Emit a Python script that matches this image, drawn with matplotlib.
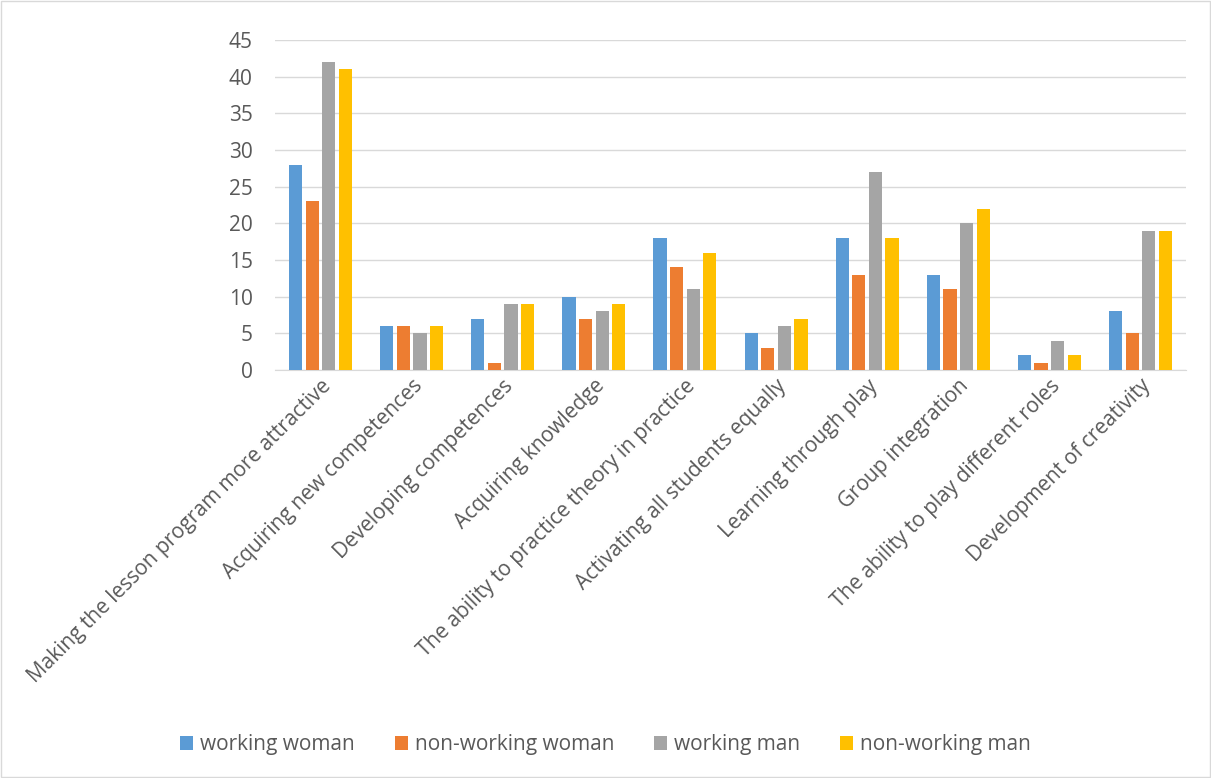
import matplotlib
matplotlib.use("Agg")
import matplotlib.pyplot as plt
import numpy as np
from matplotlib.patches import Rectangle

categories = [
    "Making the lesson program more attractive",
    "Acquiring new competences",
    "Developing competences",
    "Acquiring knowledge",
    "The ability to practice theory in practice",
    "Activating all students equally",
    "Learning through play",
    "Group integration",
    "The ability to play different roles",
    "Development of creativity",
]
series_names = ["working woman", "non-working woman", "working man", "non-working man"]
working_woman = [28, 6, 7, 10, 18, 5, 18, 13, 2, 8]
non_working_woman = [23, 6, 1, 7, 14, 3, 13, 11, 1, 5]
working_man = [42, 5, 9, 8, 11, 6, 27, 20, 4, 19]
non_working_man = [41, 6, 9, 9, 16, 7, 18, 22, 2, 19]
colors = ["#5B9BD5", "#ED7D31", "#A5A5A5", "#FFC000"]

plt.rcParams['font.family'] = ['Open Sans', 'DejaVu Sans']

fig = plt.figure(figsize=(12.11, 7.78), dpi=100)
ax = fig.add_axes([275 / 1211, 1 - 370 / 778, (1186 - 275) / 1211, 330 / 778])

x = np.arange(len(categories))
w = 0.145
step = 0.182
all_series = [working_woman, non_working_woman, working_man, non_working_man]
for i, (vals, name, c) in enumerate(zip(all_series, series_names, colors)):
    ax.bar(x + (i - 1.5) * step, vals, width=w, color=c, label=name, zorder=3)

ax.set_xlim(-0.5, len(categories) - 0.5)
ax.set_ylim(0, 45)
ax.set_yticks(range(0, 46, 5))
ax.yaxis.grid(True, color="#D9D9D9", linewidth=1, zorder=0)
for s in ["top", "right", "left"]:
    ax.spines[s].set_visible(False)
ax.spines["bottom"].set_color("#D9D9D9")
ax.tick_params(axis="y", length=0, labelsize=15, colors="#595959", pad=16)
ax.tick_params(axis="x", length=0, labelsize=15, colors="#595959", pad=4)
ax.set_xticks(x)
ax.set_xticklabels(categories, rotation=45, ha="right", rotation_mode="anchor")

fig.legend(loc="center", bbox_to_anchor=(0.5, 0.043), ncol=4, frameon=False,
           fontsize=15, handlelength=0.63, handleheight=0.63, columnspacing=1.9,
           handletextpad=0.34, labelcolor="#595959")

fig.patches.append(Rectangle((0.001, 0.001), 0.998, 0.998, transform=fig.transFigure,
                             fill=False, edgecolor="#D9D9D9", linewidth=1))

fig.savefig("out.png", dpi=100)
